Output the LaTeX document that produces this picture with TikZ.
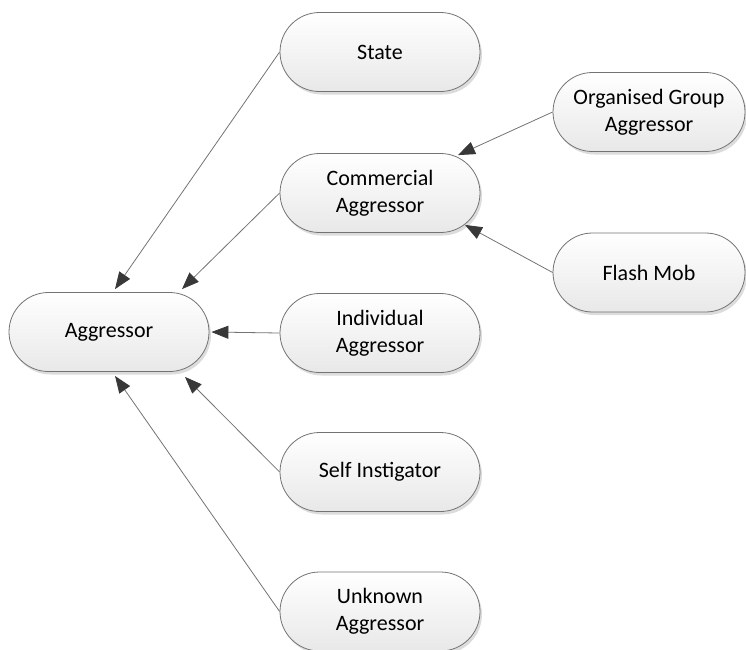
\documentclass[tikz,border=0pt]{standalone}
\usepackage{fontspec}
\setmainfont{Carlito}
\usetikzlibrary{shapes.misc,arrows.meta,shadows,calc}
\begin{document}
\begin{tikzpicture}[x=1pt,y=-1pt,
  actor/.style={rounded rectangle, draw=black!55, line width=0.8pt,
    shading=axis, top color=white, bottom color=black!9,
    minimum width=200pt, minimum height=79pt, inner sep=0pt,
    align=center, font=\fontsize{22}{27}\selectfont,
    drop shadow={shadow xshift=2pt, shadow yshift=-3pt, fill=black!30, opacity=0.45}},
  conn/.style={draw=black!55, line width=0.8pt,
    -{Triangle[length=17pt,width=13pt,color=black!78]}}]
  \useasboundingbox (0,0) rectangle (746,649);
  % nodes
  \node[actor] (agg)   at (109,332)   {Aggressor};
  \node[actor] (state) at (380,52)    {State};
  \node[actor] (comm)  at (380,193)   {Commercial\\Aggressor};
  \node[actor] (indiv) at (380,333)   {Individual\\Aggressor};
  \node[actor] (self)  at (380,472)   {Self Instigator};
  \node[actor] (unkn)  at (380,611.5) {Unknown\\Aggressor};
  \node[actor, minimum width=192pt] (org)   at (649,112) {Organised Group\\Aggressor};
  \node[actor, minimum width=192pt] (flash) at (649,272.5) {Flash Mob};
  % connectors
  \draw[conn] (state.west) -- ($(agg.north)+(6,-3)$);
  \draw[conn] (comm.west)  -- ($(agg.north)+(73,-3)$);
  \draw[conn] (indiv.west) -- ($(agg.east)+(2,0)$);
  \draw[conn] (self.west)  -- ($(agg.south)+(76,5)$);
  \draw[conn] (unkn.west)  -- ($(agg.south)+(6,4)$);
  \draw[conn] (org.west)   -- ($(comm.north)+(78,2)$);
  \draw[conn] (flash.west) -- ($(comm.south)+(85,-8)$);
\end{tikzpicture}
\end{document}
